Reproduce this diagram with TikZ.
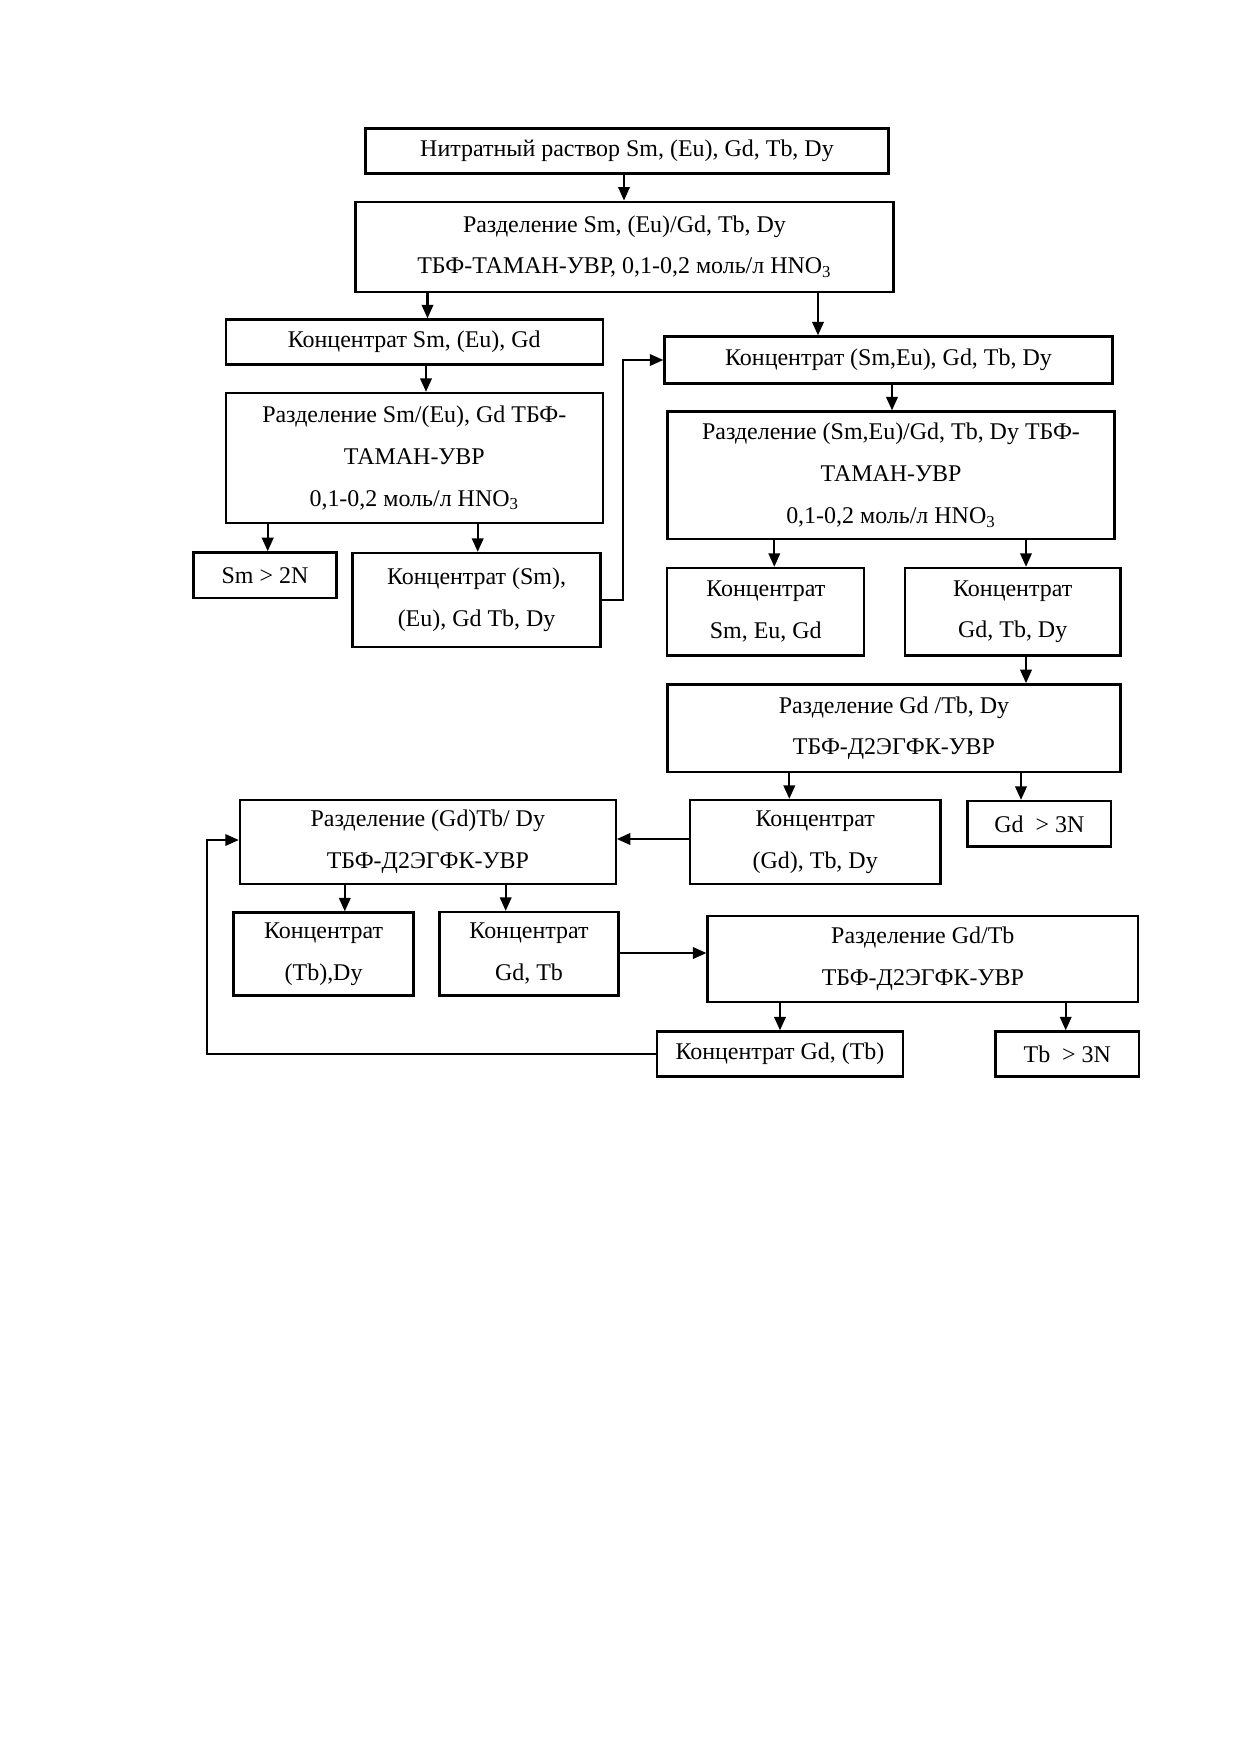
\documentclass[tikz,border=0pt]{standalone}
\usepackage{fontspec}
\setmainfont{Liberation Serif}
\usetikzlibrary{arrows.meta}

\begin{document}
\begin{tikzpicture}[x=0.48pt,y=-0.48pt]
		\tikzset{box/.style 2 args = {draw, line width=1.1pt, inner sep=0pt, align=center,
			minimum width=#1*0.48pt, minimum height=#2*0.48pt,
			font=\fontsize{11.5}{20}\selectfont}}
		\tikzset{arr/.style = {line width=1.1pt, -{Triangle[length=6.5pt,width=5.5pt]}}}

		\useasboundingbox (0,0) rectangle (1240,1754);

		\node[box={523}{45}] (sol) at (627,151) {Нитратный раствор Sm, (Eu), Gd, Tb, Dy};
		\node[box={538}{90}] (sepA) at (624.5,246.7) {Разделение Sm, (Eu)/Gd, Tb, Dy\\ТБФ-ТАМАН-УВР, 0,1-0,2 моль/л HNO\textsubscript{3}};
		\node[box={377}{45}] (concA) at (414.3,342) {Концентрат Sm, (Eu), Gd};
		\node[box={448}{47}] (concB) at (888.5,360) {Концентрат (Sm,Eu), Gd, Tb, Dy};
		\node[box={377}{130}] (sepB) at (414.3,458) {Разделение Sm/(Eu), Gd ТБФ-\\ТАМАН-УВР\\0,1-0,2 моль/л HNO\textsubscript{3}};
		\node[box={447}{127.5}] (sepC) at (891,475.3) {Разделение (Sm,Eu)/Gd, Tb, Dy ТБФ-\\ТАМАН-УВР\\0,1-0,2 моль/л HNO\textsubscript{3}};
		\node[box={143}{45.6}] (sm) at (265,575.2) {Sm > 2N};
		\node[box={248}{94}] (concC) at (476.6,600) {Концентрат (Sm),\\(Eu), Gd Tb, Dy};
		\node[box={197}{87.5}] (concD) at (765.8,611.7) {Концентрат\\Sm, Eu, Gd};
		\node[box={215.5}{87.5}] (concE) at (1012.7,611.7) {Концентрат\\Gd, Tb, Dy};
		\node[box={453}{87.7}] (sepD) at (894,728.2) {Разделение Gd /Tb, Dy\\ТБФ-Д2ЭГФК-УВР};
		\node[box={375.7}{84}] (sepE) at (427.8,842) {Разделение (Gd)Tb/ Dy\\ТБФ-Д2ЭГФК-УВР};
		\node[box={250.5}{84}] (concF) at (815.2,842) {Концентрат\\(Gd), Tb, Dy};
		\node[box={143.7}{45.5}] (gd) at (1039.3,823.8) {Gd~~> 3N};
		\node[box={180}{83}] (concG) at (323.6,954) {Концентрат\\(Tb),Dy};
		\node[box={179}{83.5}] (concH) at (529,953.8) {Концентрат\\Gd, Tb};
		\node[box={430.4}{86.3}] (sepF) at (922.8,958.9) {Разделение Gd/Tb\\ТБФ-Д2ЭГФК-УВР};
		\node[box={246}{45}] (concI) at (780,1054) {Концентрат Gd, (Tb)};
		\node[box={143.5}{45}] (tb) at (1067.3,1054) {Tb~~> 3N};

		\coordinate (back1) at (623.3,0);
		\coordinate (back2) at (206.7,0);

		\draw[arr] (sol.south -| 624,0) -- (sepA.north -| 624,0);
		\draw[arr] (sepA.south -| 427.5,0) -- (concA.north -| 427.5,0);
		\draw[arr] (sepA.south -| 818,0) -- (concB.north -| 818,0);
		\draw[arr] (concA.south -| 426,0) -- (sepB.north -| 426,0);
		\draw[arr] (sepB.south -| 267.7,0) -- (sm.north -| 267.7,0);
		\draw[arr] (sepB.south -| 477.7,0) -- (concC.north -| 477.7,0);
		\draw[arr] (concC.east) -- (concC.east -| back1) |- (concB.west);
		\draw[arr] (concB.south -| 892,0) -- (sepC.north -| 892,0);
		\draw[arr] (sepC.south -| 774.3,0) -- (concD.north -| 774.3,0);
		\draw[arr] (sepC.south -| 1026,0) -- (concE.north -| 1026,0);
		\draw[arr] (concE.south -| 1026,0) -- (sepD.north -| 1026,0);
		\draw[arr] (sepD.south -| 789.3,0) -- (concF.north -| 789.3,0);
		\draw[arr] (sepD.south -| 1021,0) -- (gd.north -| 1021,0);
		\draw[arr] (concF.west |- 0,839) -- (sepE.east |- 0,839);
		\draw[arr] (sepE.south -| 344.8,0) -- (concG.north -| 344.8,0);
		\draw[arr] (sepE.south -| 505.7,0) -- (concH.north -| 505.7,0);
		\draw[arr] (concH.east |- 0,953) -- (sepF.west |- 0,953);
		\draw[arr] (sepF.south -| 780,0) -- (concI.north -| 780,0);
		\draw[arr] (sepF.south -| 1065.7,0) -- (tb.north -| 1065.7,0);
		\draw[arr] (concI.west) -- (concI.west -| back2) |- (sepE.west |- 0,840);

	\end{tikzpicture}
\end{document}
